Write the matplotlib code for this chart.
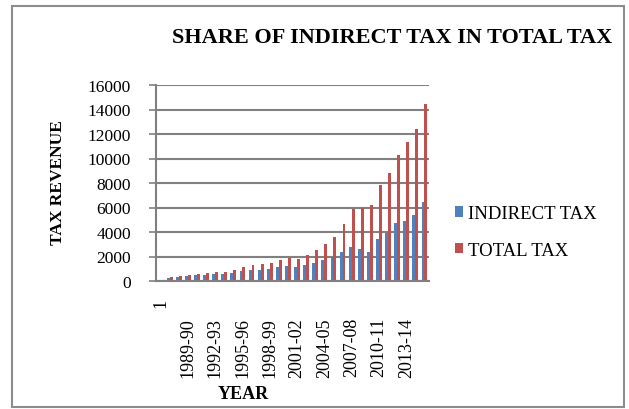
import numpy as np
import matplotlib
matplotlib.use("Agg")
import matplotlib.pyplot as plt
from matplotlib.patches import Rectangle

plt.rcParams['font.family'] = ['Liberation Serif', 'DejaVu Serif']

# Category labels along the x axis (first category carries no data)
years = ["1", "1987-88", "1988-89", "1989-90", "1990-91", "1991-92", "1992-93",
         "1993-94", "1994-95", "1995-96", "1996-97", "1997-98", "1998-99",
         "1999-00", "2000-01", "2001-02", "2002-03", "2003-04", "2004-05",
         "2005-06", "2006-07", "2007-08", "2008-09", "2009-10", "2010-11",
         "2011-12", "2012-13", "2013-14", "2014-15", "2015-16"]

indirect_tax = [np.nan, 275, 350, 405, 460, 495, 550, 540, 625, 790, 870, 910,
                965, 1130, 1185, 1150, 1270, 1480, 1680, 1950, 2390, 2770,
                2640, 2370, 3395, 3880, 4715, 4918, 5380, 6440]
total_tax = [np.nan, 350, 430, 515, 540, 680, 710, 765, 900, 1120, 1290, 1370,
             1440, 1705, 1850, 1835, 2150, 2510, 3000, 3620, 4690, 5885,
             5965, 6168, 7852, 8820, 10299, 11320, 12416, 14420]

W, H = 629, 410
fig = plt.figure(figsize=(W / 100, H / 100), dpi=100)

# outer chart border
fig.patches.append(Rectangle((12 / W, 1 - 408 / H), 612 / W, 401 / H,
                             transform=fig.transFigure, fill=False,
                             edgecolor='#8c8c8c', linewidth=1.5))

ax = fig.add_axes([156 / W, 1 - 282 / H, 273 / W, 196 / H])

x = np.arange(len(years))
w = 0.32
ax.bar(x - w / 2, indirect_tax, w, color='#4F81BD', label='INDIRECT TAX')
ax.bar(x + w / 2, total_tax, w, color='#C0504D', label='TOTAL TAX')

ax.set_xlim(-0.5, len(years) - 0.5)
ax.set_ylim(0, 16000)
ax.set_yticks(np.arange(0, 16001, 2000))
ax.yaxis.grid(True, color='#808080', linewidth=1.5)
ax.set_axisbelow(True)

for side in ('top', 'right'):
    ax.spines[side].set_visible(False)
for side in ('left', 'bottom'):
    ax.spines[side].set_color('#808080')
    ax.spines[side].set_linewidth(1.5)

ax.tick_params(axis='y', length=5, width=1.2, color='#808080',
               labelsize=12.5, pad=13)
ax.set_xticks(x[::3])
ax.set_xticklabels(years[::3], rotation=90, va='top', ha='center')
ax.tick_params(axis='x', length=0, labelsize=13, pad=26)
# lift the lone "1" label closer to the axis
ax.get_xticklabels()[0].set_y(0.1)

fig.text(392 / W, 1 - 38 / H, 'SHARE OF INDIRECT TAX IN TOTAL TAX',
         ha='center', va='center', fontsize=16, fontweight='bold')
fig.text(58 / W, 1 - 183 / H, 'TAX REVENUE', rotation=90,
         ha='center', va='center', fontsize=12.5, fontweight='bold')
fig.text(243 / W, 1 - 395 / H, 'YEAR', ha='center', va='center',
         fontsize=13, fontweight='bold')

fig.legend(loc='center left', bbox_to_anchor=(455 / W, 1 - 233 / H),
           frameon=False, fontsize=13.5, handlelength=0.45, handleheight=0.45,
           handletextpad=0.25, labelspacing=1.05, borderpad=0, borderaxespad=0)

fig.savefig('out.png', dpi=100)
